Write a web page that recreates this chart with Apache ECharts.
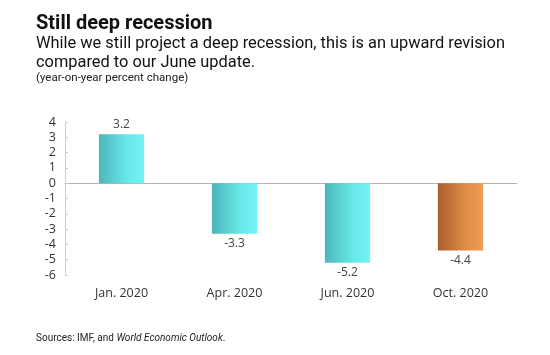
<!DOCTYPE html>
<html>
<head>
<meta charset="utf-8">
<script src="https://cdn.jsdelivr.net/npm/echarts@6/dist/echarts.min.js"></script>
<style>
html,body{margin:0;padding:0;background:#fff;}
#c{width:550px;height:355px;}
</style>
</head>
<body>
<div id="c"></div>
<script>
const categories = ["Jan. 2020", "Apr. 2020", "Jun. 2020", "Oct. 2020"];
const values = [3.2, -3.3, -5.2, -4.4];
const highlight = [false, false, false, true];
const yTicks = {min: -6, max: 4, interval: 1};

const tealGrad = new echarts.graphic.LinearGradient(0, 0, 1, 0, [
  {offset: 0, color: '#4cb6b8'}, {offset: 0.6, color: '#68e6e8'}, {offset: 1, color: '#74f4f4'}]);
const orangeGrad = new echarts.graphic.LinearGradient(0, 0, 1, 0, [
  {offset: 0, color: '#a95e2e'}, {offset: 0.6, color: '#e08c48'}, {offset: 1, color: '#f09c56'}]);

const chart = echarts.init(document.getElementById('c'), null, {renderer: 'canvas'});
chart.setOption({
  backgroundColor: '#fff',
  animation: false,
  title: [
    {text: 'Still deep recession', left: 36, top: 14, padding: 0,
     textStyle: {fontFamily: 'Roboto', fontWeight: 'bold', fontSize: 20, color: '#111'}},
    {text: 'While we still project a deep recession, this is an upward revision\ncompared to our June update.',
     left: 36, top: 34, padding: 0,
     textStyle: {fontFamily: 'Roboto', fontWeight: 'normal', fontSize: 16.4, lineHeight: 19, color: '#111'}},
    {text: '(year-on-year percent change)', left: 36, top: 72, padding: 0,
     textStyle: {fontFamily: 'Roboto', fontWeight: 'normal', fontSize: 11.5, color: '#222'}},
    {text: '{n|Sources: IMF, and }{i|World Economic Outlook}{n|.}', left: 36, top: 333, padding: 0,
     textStyle: {fontWeight: 'normal', rich: {
       n: {fontFamily: 'Roboto', fontSize: 10, fontWeight: 'normal', color: '#222'},
       i: {fontFamily: 'Roboto', fontSize: 10, fontWeight: 'normal', fontStyle: 'italic', color: '#222'}}}}
  ],
  grid: {left: 65, right: 33, top: 122, bottom: 80, containLabel: false},
  xAxis: {
    type: 'category', data: categories,
    axisLine: {onZero: true, lineStyle: {color: '#b4b4b4', width: 1}},
    axisTick: {show: false},
    axisLabel: {show: false}
  },
  yAxis: {
    type: 'value', min: yTicks.min, max: yTicks.max, interval: yTicks.interval,
    splitLine: {show: false},
    axisLine: {show: true, lineStyle: {color: '#d0d0d0'}},
    axisTick: {show: true, inside: true, length: 3, lineStyle: {color: '#d0d0d0'}},
    axisLabel: {fontFamily: 'Open Sans', fontSize: 12.5, color: '#333', margin: 9}
  },
  series: [
    {
      type: 'bar', barWidth: '40%',
      data: values.map((v, i) => ({value: v, itemStyle: {color: highlight[i] ? orangeGrad : tealGrad}})),
      label: {show: true, formatter: p => p.value.toFixed(1),
        position: 'outside', distance: 4,
        fontFamily: 'Open Sans', fontSize: 12, color: '#444'}
    },
    {
      type: 'bar', barGap: '-100%', barWidth: '40%', silent: true,
      data: values.map(() => yTicks.min),
      itemStyle: {color: 'transparent'},
      label: {show: true, position: 'insideBottom', distance: -25,
        formatter: p => categories[p.dataIndex],
        fontFamily: 'Open Sans', fontSize: 12.5, color: '#333'}
    }
  ]
});
</script>
</body>
</html>
